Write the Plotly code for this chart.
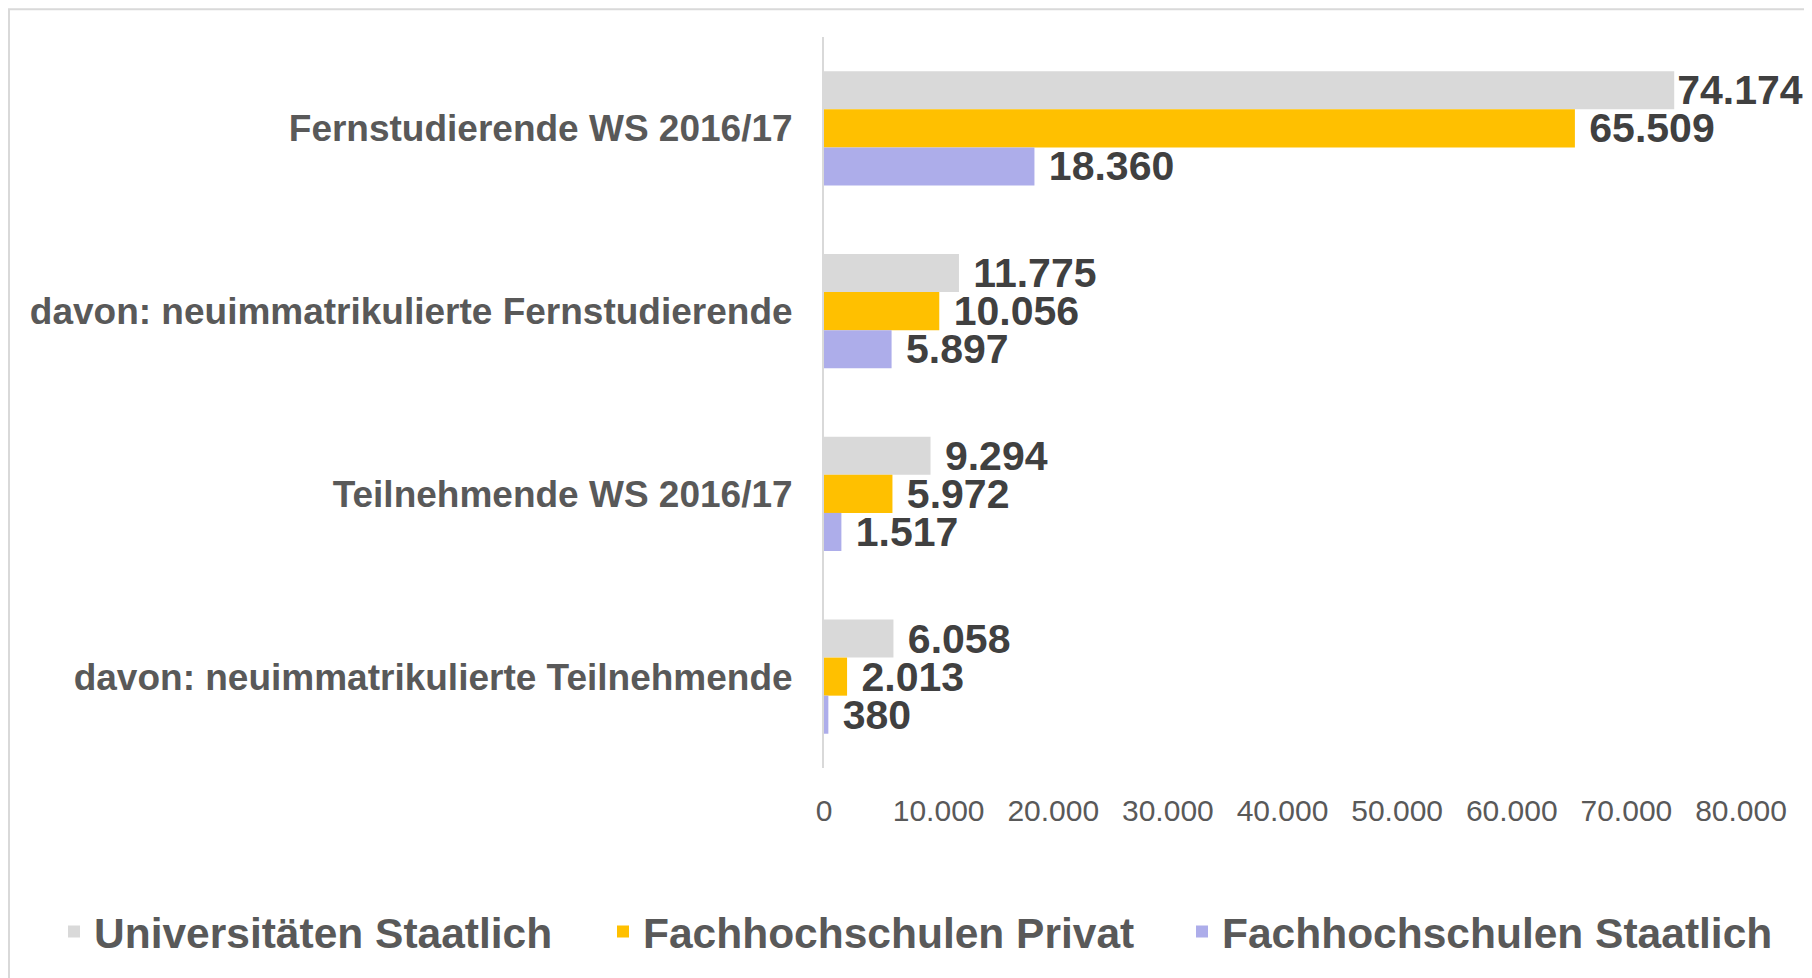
import plotly.graph_objects as go

categories = [
    "Fernstudierende WS 2016/17",
    "davon: neuimmatrikulierte Fernstudierende",
    "Teilnehmende WS 2016/17",
    "davon: neuimmatrikulierte Teilnehmende",
]
series_names = ["Universitäten Staatlich", "Fachhochschulen Privat", "Fachhochschulen Staatlich"]
uni_staatlich = [74174, 11775, 9294, 6058]
fh_privat = [65509, 10056, 5972, 2013]
fh_staatlich = [18360, 5897, 1517, 380]
series_colors = ["#d9d9d9", "#ffc000", "#adadea"]

x_max = 80000
x_ticks = [0, 10000, 20000, 30000, 40000, 50000, 60000, 70000, 80000]


def de_fmt(v):
    return f"{v:,}".replace(",", ".")


def label(v):
    # labels of bars that nearly reach the axis end sit closer to the bar (as in Excel)
    pad = "" if v > 0.9 * x_max else "\u00a0"
    return pad + de_fmt(v)


x_ticktext = [de_fmt(v) for v in x_ticks]

FONT = "Liberation Sans, Arial, sans-serif"

# page has an 8px body margin; figure is sized so it ends at the window edge
W, H = 1804, 970
ML, MR, MT, MB = 816, 71, 29, 205
PW = W - ML - MR
PH = H - MT - MB

legend_ids = ["legend", "legend2", "legend3"]
legend_left_px = [46, 595, 1174]  # left edge of each legend entry, figure pixels

fig = go.Figure()
for name, vals, col, lid in zip(series_names, [uni_staatlich, fh_privat, fh_staatlich],
                                series_colors, legend_ids):
    fig.add_trace(go.Bar(
        y=categories,
        x=vals,
        name=name,
        orientation="h",
        marker=dict(color=col, line=dict(width=0)),
        text=[label(v) for v in vals],
        textposition="outside",
        textfont=dict(family=FONT, size=41, color="#404040", weight="bold"),
        constraintext="none",
        cliponaxis=False,
        hoverinfo="x+name",
        legend=lid,
    ))

legend_common = dict(
    orientation="h",
    xref="paper",
    yref="paper",
    xanchor="left",
    y=(H - MB - 930) / PH,
    yanchor="middle",
    font=dict(family=FONT, size=42.5, color="#595959", weight="bold"),
    bgcolor="rgba(0,0,0,0)",
)
legends = {}
for lid, lx in zip(legend_ids, legend_left_px):
    legends[lid] = dict(legend_common, x=(lx - ML) / PW)

fig.update_layout(
    width=W,
    height=H,
    margin=dict(l=ML, r=MR, t=MT, b=MB, pad=0),
    paper_bgcolor="white",
    plot_bgcolor="white",
    barmode="group",
    bargap=0.375,
    bargroupgap=0,
    font=dict(family=FONT, color="#595959"),
    showlegend=True,
    xaxis=dict(
        range=[0, x_max],
        tickmode="array",
        tickvals=x_ticks,
        ticktext=x_ticktext,
        showgrid=False,
        zeroline=False,
        showline=False,
        ticks="",
        tickfont=dict(family=FONT, size=30, color="#595959"),
        ticklabelstandoff=22,
        fixedrange=True,
    ),
    yaxis=dict(
        type="category",
        autorange="reversed",
        showgrid=False,
        zeroline=False,
        showline=True,
        linecolor="#d9d9d9",
        linewidth=2,
        ticks="",
        tickfont=dict(family=FONT, size=37, color="#595959", weight="bold"),
        ticklabelstandoff=22,
        fixedrange=True,
    ),
    shapes=[
        dict(
            type="rect",
            xref="paper",
            yref="paper",
            x0=(1 - ML) / PW,
            x1=1.3,
            y0=-0.6,
            y1=(H - MB - 1) / PH,
            line=dict(color="#d9d9d9", width=2),
            fillcolor="rgba(0,0,0,0)",
            layer="below",
        )
    ],
    **legends,
)

fig.write_html("out.html")
